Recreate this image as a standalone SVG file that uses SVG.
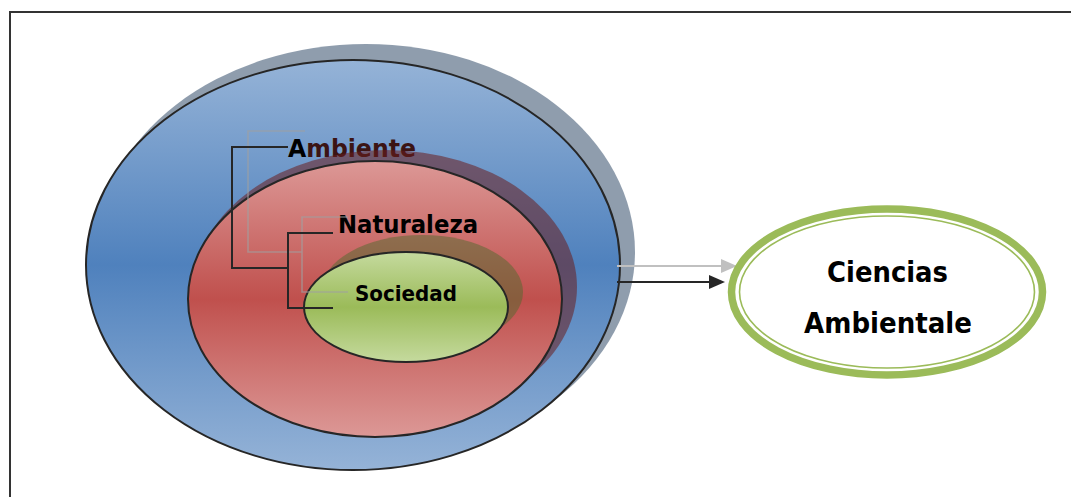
<svg xmlns="http://www.w3.org/2000/svg" width="1071" height="497" viewBox="0 0 1071 497">
<defs>
<linearGradient id="gBlue" x1="0" y1="0" x2="0" y2="1">
<stop offset="0" stop-color="#95b3d7"/><stop offset="0.5" stop-color="#4f81bd"/><stop offset="1" stop-color="#95b3d7"/>
</linearGradient>
<linearGradient id="gRed" x1="0" y1="0" x2="0" y2="1">
<stop offset="0" stop-color="#dc9896"/><stop offset="0.5" stop-color="#c0504d"/><stop offset="1" stop-color="#dc9896"/>
</linearGradient>
<linearGradient id="gGreen" x1="0" y1="0" x2="0" y2="1">
<stop offset="0" stop-color="#c5da9e"/><stop offset="0.5" stop-color="#9bbb59"/><stop offset="1" stop-color="#c5da9e"/>
</linearGradient>
<marker id="arrBlack" viewBox="0 0 16 14" refX="2" refY="7" markerWidth="16" markerHeight="14" markerUnits="userSpaceOnUse" orient="auto">
<path d="M0,0 L16,7 L0,14 z" fill="#262626"/>
</marker>
<marker id="arrGray" viewBox="0 0 16 14" refX="2" refY="7" markerWidth="16" markerHeight="14" markerUnits="userSpaceOnUse" orient="auto">
<path d="M0,0 L16,7 L0,14 z" fill="#c0c0c0"/>
</marker>
</defs>
<style>
.ring{stroke:#262626;stroke-width:2}
.lbl{font-family:"DejaVu Sans","Liberation Sans",sans-serif;font-weight:bold;fill:#000}
.br{fill:none;stroke:#262626;stroke-width:2}
.brg{fill:none;stroke:#a0a0a0;stroke-width:1.6;stroke-opacity:0.65}
</style>
<rect x="10" y="12" width="1100" height="520" fill="#fff" stroke="#333" stroke-width="2"/>
<g id="node-ambiente">
<ellipse cx="366" cy="252" rx="269" ry="208" fill="#1f3b5b" fill-opacity="0.5"/>
<ellipse class="ring" cx="353" cy="265" rx="267" ry="205" fill="url(#gBlue)"/>
<text class="lbl" x="288" y="157" font-size="25" textLength="128" lengthAdjust="spacingAndGlyphs">A<tspan fill="#3b1414">mbiente</tspan></text>
</g>
<g id="node-naturaleza">
<ellipse cx="386" cy="287" rx="191" ry="137" fill="#691d1d" fill-opacity="0.55"/>
<ellipse class="ring" cx="375" cy="299" rx="187" ry="138" fill="url(#gRed)"/>
<text class="lbl" x="338" y="233" font-size="25" textLength="140" lengthAdjust="spacingAndGlyphs">Naturaleza</text>
</g>
<g id="node-sociedad">
<ellipse cx="422" cy="292" rx="101" ry="57" fill="#4f6a2e" fill-opacity="0.5"/>
<ellipse class="ring" cx="406" cy="307" rx="102" ry="55" fill="url(#gGreen)"/>
<text class="lbl" x="355" y="301" font-size="21" textLength="102" lengthAdjust="spacingAndGlyphs">Sociedad</text>
</g>
<g id="connectors">
<path class="brg" d="M305,131 H248 V252 H302 M348,217 H302 V292 H348"/>
<path class="br" d="M288,147 H232 V268 H288 M333,233 H288 V308 H333"/>
<line x1="617" y1="266" x2="723" y2="266" stroke="#c0c0c0" stroke-width="2" marker-end="url(#arrGray)"/>
<line x1="617" y1="282" x2="711" y2="282" stroke="#262626" stroke-width="2" marker-end="url(#arrBlack)"/>
</g>
<g id="node-ciencias">
<ellipse cx="887" cy="292" rx="155.5" ry="83" fill="#fff" stroke="#9bbb59" stroke-width="7.5"/>
<ellipse cx="887" cy="292" rx="147.5" ry="76" fill="none" stroke="#9bbb59" stroke-width="1.6"/>
<text class="lbl" x="827" y="282" font-size="29" textLength="121" lengthAdjust="spacingAndGlyphs">Ciencias</text>
<text class="lbl" x="804" y="333" font-size="29" textLength="168" lengthAdjust="spacingAndGlyphs">Ambientale</text>
</g>
</svg>
